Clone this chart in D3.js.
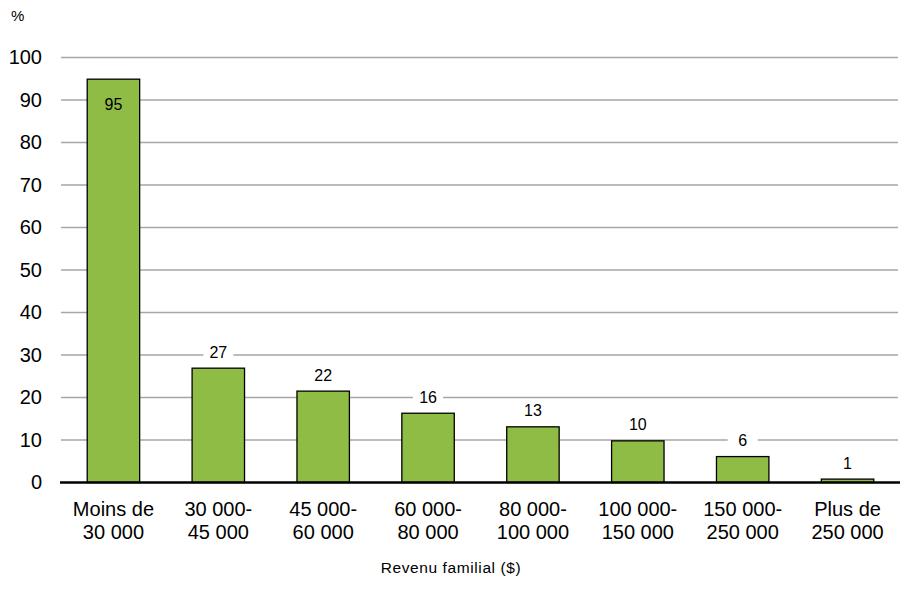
<!DOCTYPE html>
<html>
<head>
<meta charset="utf-8">
<script src="https://cdn.jsdelivr.net/npm/d3@7"></script>
<style>
  body { margin: 0; background: #fff; }
  text { font-family: "Liberation Sans", Arial, sans-serif; fill: #000; }
</style>
</head>
<body>
<div id="chart"></div>
<script>
// categories (two lines each) and values
const categories = [
  ["Moins de", "30 000"],
  ["30 000-", "45 000"],
  ["45 000-", "60 000"],
  ["60 000-", "80 000"],
  ["80 000-", "100 000"],
  ["100 000-", "150 000"],
  ["150 000-", "250 000"],
  ["Plus de", "250 000"]
];
const values = [94.9, 26.9, 21.5, 16.3, 13.1, 9.8, 6.1, 0.8];
const valueLabels = ["95", "27", "22", "16", "13", "10", "6", "1"];
const yTicks = [0, 10, 20, 30, 40, 50, 60, 70, 80, 90, 100];

const W = 900, H = 598;
const margin = {top: 57.5, right: 0, bottom: 115.5, left: 61};
const width = W - margin.left - margin.right,
      height = H - margin.top - margin.bottom;

const svg = d3.select("#chart").append("svg")
    .attr("width", W)
    .attr("height", H);

const g = svg.append("g")
    .attr("transform", `translate(${margin.left},${margin.top})`);

const x = d3.scaleBand()
  .domain(d3.range(categories.length))
  .range([0, width])
  .paddingInner(0.5)
  .paddingOuter(0.25);

const y = d3.scaleLinear()
  .domain([0, 100])
  .range([height, 0]);

// gridlines
g.append("g")
  .selectAll("line")
  .data(yTicks.filter(d => d > 0))
  .enter().append("line")
    .attr("x1", 0)
    .attr("x2", width - 2)
    .attr("y1", d => y(d))
    .attr("y2", d => y(d))
    .attr("stroke", "#a6a6a6")
    .attr("stroke-width", 1.3);

// y axis labels
const yAxis = g.append("g")
  .call(d3.axisLeft(y).tickValues(yTicks).tickSize(0).tickPadding(19));
yAxis.select(".domain").remove();
yAxis.selectAll("text")
  .style("font-family", '"Liberation Sans", Arial, sans-serif')
  .attr("font-size", 20)
  .attr("fill", "#000");

// bars
g.selectAll("rect.bar")
  .data(values)
  .enter().append("rect")
    .attr("class", "bar")
    .attr("x", (d, i) => x(i))
    .attr("y", d => y(d))
    .attr("width", x.bandwidth())
    .attr("height", d => height - y(d))
    .attr("fill", "#8fbc45")
    .attr("stroke", "#000")
    .attr("stroke-width", 1.3);

// x axis line
g.append("line")
  .attr("x1", -1)
  .attr("x2", width)
  .attr("y1", height)
  .attr("y2", height)
  .attr("stroke", "#000")
  .attr("stroke-width", 2.5);

// value labels
const labels = g.selectAll("g.vlabel")
  .data(values)
  .enter().append("g")
    .attr("class", "vlabel")
    .attr("transform", (d, i) => {
      const cx = x(i) + x.bandwidth() / 2;
      const cy = i === 0 ? y(d) + 25 : y(d) - 16;
      return `translate(${cx},${cy})`;
    });

labels.filter((d, i) => i > 0).append("rect")
  .attr("x", -15)
  .attr("y", -10)
  .attr("width", 30)
  .attr("height", 20)
  .attr("fill", "#fff");

labels.append("text")
  .attr("text-anchor", "middle")
  .attr("dy", "0.35em")
  .attr("font-size", 16)
  .text((d, i) => valueLabels[i]);

// category labels
const cat = g.selectAll("text.cat")
  .data(categories)
  .enter().append("text")
    .attr("class", "cat")
    .attr("text-anchor", "middle")
    .attr("font-size", 20)
    .attr("transform", (d, i) => `translate(${x(i) + x.bandwidth() / 2},${height + 33})`);
cat.selectAll("tspan")
  .data(d => d)
  .enter().append("tspan")
    .attr("x", 0)
    .attr("dy", (d, j) => j === 0 ? 0 : 23)
    .text(d => d);

// axis title
svg.append("text")
  .attr("x", 451)
  .attr("y", 573)
  .attr("text-anchor", "middle")
  .attr("font-size", 15.5)
  .attr("letter-spacing", 0.6)
  .text("Revenu familial ($)");

// unit label
svg.append("text")
  .attr("x", 11)
  .attr("y", 21)
  .attr("font-size", 15)
  .text("%");
</script>
</body>
</html>
